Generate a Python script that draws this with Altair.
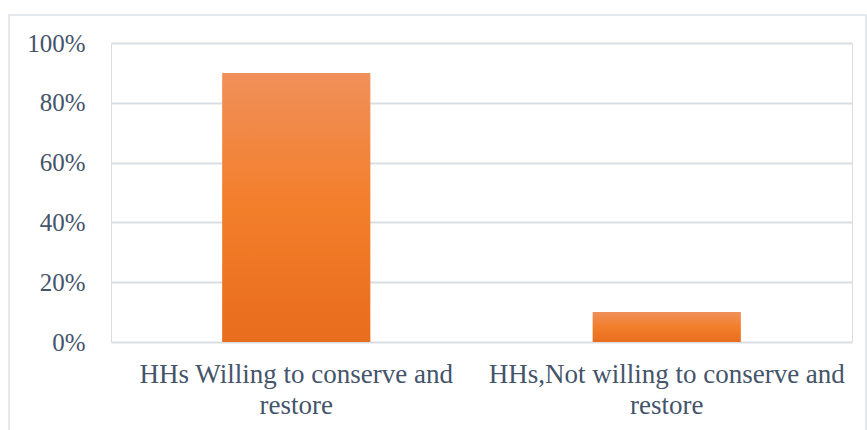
import altair as alt
import pandas as pd

categories = ["HHs Willing to conserve and|restore", "HHs,Not willing to conserve and|restore"]
shares = [0.90, 0.10]
tick_values = [0, 0.2, 0.4, 0.6, 0.8, 1.0]

df = pd.DataFrame({"category": categories, "share": shares})

FONT = "Liberation Serif"
TEXT = "#44546A"
GRID = "#D9DEE5"

gradient = alt.Gradient(
    gradient="linear",
    stops=[
        alt.GradientStop(color="#F0905A", offset=0),
        alt.GradientStop(color="#F37E2A", offset=0.5),
        alt.GradientStop(color="#E86D1C", offset=1),
    ],
    x1=0, x2=0, y1=0, y2=1,
)

bars = alt.Chart(df).mark_bar(color=gradient).encode(
    x=alt.X(
        "category:N",
        sort=categories,
        scale=alt.Scale(paddingInner=0.6, paddingOuter=0.3),
        axis=alt.Axis(
            title=None, labelAngle=0, domain=False, ticks=False,
            labelExpr="split(datum.label, '|')",
            labelFont=FONT, labelFontSize=27, labelColor=TEXT,
            labelPadding=19, labelLineHeight=31, labelLimit=400,
        ),
    ),
    y=alt.Y(
        "share:Q",
        scale=alt.Scale(domain=[0, 1]),
        axis=alt.Axis(
            title=None, values=tick_values, format=".0%", domain=False, ticks=False,
            grid=True, gridColor=GRID, gridWidth=2,
            labelFont=FONT, labelFontSize=25, labelColor=TEXT, labelPadding=26,
        ),
    ),
)

frame = alt.Chart(pd.DataFrame({"a": [0]})).mark_rect(
    fill=None, stroke="#DCE2E9", strokeWidth=1.5
).encode(
    x=alt.value(-102), x2=alt.value(755), y=alt.value(-28), y2=alt.value(420)
)

chart = alt.layer(frame, bars).properties(
    width=741, height=299,
    autosize=alt.AutoSizeParams(type="none"),
    padding={"left": 111, "top": 43, "right": 15, "bottom": 88},
).configure_view(stroke=None).configure(background="white")

chart.save("out.html", embed_options={"renderer": "svg", "actions": False})
